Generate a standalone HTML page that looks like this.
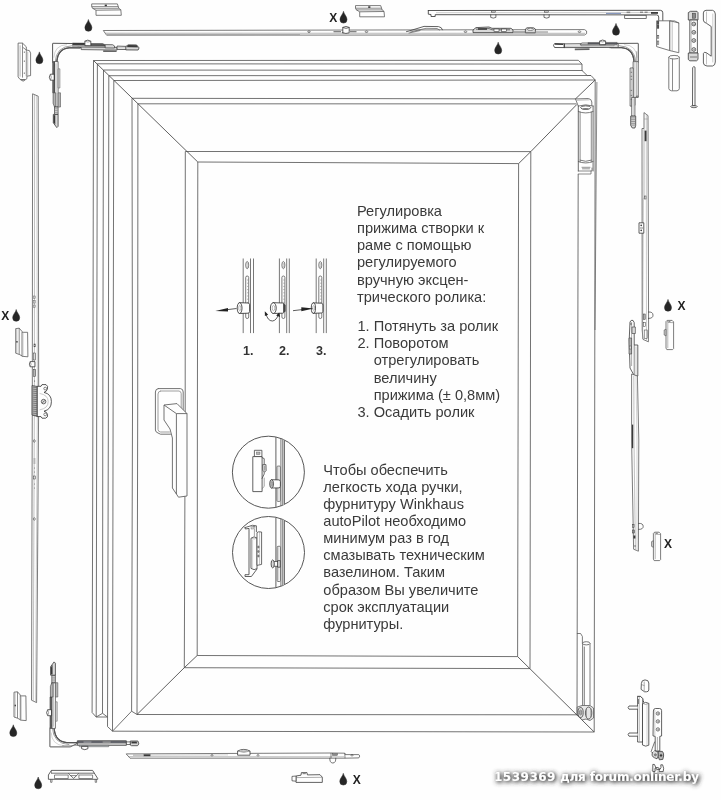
<!DOCTYPE html>
<html lang="ru"><head><meta charset="utf-8"><title>Winkhaus autoPilot</title>
<style>
html,body{margin:0;padding:0;background:#fefefe;}
body{width:721px;height:800px;overflow:hidden;position:relative;font-family:"Liberation Sans",sans-serif;}
svg{position:absolute;left:0;top:0;display:block;filter:blur(0.35px)}
.t{font-family:"Liberation Sans",sans-serif;font-size:14.6px;fill:#3a3a3a}
.n{font-family:"Liberation Sans",sans-serif;font-size:12.5px;font-weight:bold;fill:#333}
.xl{font-family:"Liberation Sans",sans-serif;font-size:12px;font-weight:bold;fill:#222}
.wm{font-family:"DejaVu Sans",sans-serif;font-size:12px;font-weight:bold;fill:#fff}
</style></head>
<body>
<svg width="721" height="800" viewBox="0 0 721 800">
<defs>
<filter id="glow" x="-10%" y="-100%" width="120%" height="300%">
<feGaussianBlur in="SourceAlpha" stdDeviation="2.4" result="b"/>
<feOffset in="b" dx="0.6" dy="1" result="bo"/>
<feComponentTransfer in="bo" result="b2"><feFuncA type="linear" slope="1.55"/></feComponentTransfer>
<feFlood flood-color="#303030" result="f"/>
<feComposite in="f" in2="b2" operator="in" result="sh"/>
<feGaussianBlur in="SourceAlpha" stdDeviation="0.7" result="c"/>
<feComponentTransfer in="c" result="c2"><feFuncA type="linear" slope="0.9"/></feComponentTransfer>
<feFlood flood-color="#404040" result="f2"/>
<feComposite in="f2" in2="c2" operator="in" result="sh2"/>
<feMerge><feMergeNode in="sh"/><feMergeNode in="sh2"/><feMergeNode in="SourceGraphic"/></feMerge>
</filter>
</defs>
<path d="M93.5,60.5 L92.9,410.0 L92.1,712.5" fill="none" stroke="#5a5a5a" stroke-width="0.85" />
<path d="M97.4,63.8 L96.7,410.0 L96.2,717.0" fill="none" stroke="#5a5a5a" stroke-width="0.85" />
<path d="M103.5,70.0 L102.8,410.0 L102.5,713.3" fill="none" stroke="#5a5a5a" stroke-width="0.85" />
<path d="M108.8,75.7 L108.4,410.0 L107.5,726.6" fill="none" stroke="#5a5a5a" stroke-width="0.85" />
<path d="M113.8,80.5 L113.1,410.0 L112.5,731.2" fill="none" stroke="#5a5a5a" stroke-width="0.85" />
<path d="M132.0,98.3 L132.5,410.0 L131.6,711.2" fill="none" stroke="#5a5a5a" stroke-width="0.85" />
<path d="M137.9,103.8 L137.7,410.0 L137.0,714.5" fill="none" stroke="#5a5a5a" stroke-width="0.85" />
<path d="M185.3,151.5 L185.2,410.0 L184.3,667.7" fill="none" stroke="#5a5a5a" stroke-width="0.85" />
<path d="M197.8,162.0 L197.4,410.0 L197.2,655.5" fill="none" stroke="#5a5a5a" stroke-width="0.85" />
<path d="M93.5,60.5 L578.3,60.3" fill="none" stroke="#5a5a5a" stroke-width="0.85" />
<path d="M97.4,63.8 L582.0,64.1" fill="none" stroke="#5a5a5a" stroke-width="0.85" />
<path d="M103.5,70.0 L582.5,70.5" fill="none" stroke="#5a5a5a" stroke-width="0.85" />
<path d="M108.8,75.7 L591.0,75.5" fill="none" stroke="#5a5a5a" stroke-width="0.85" />
<path d="M113.8,80.5 L595.2,80.0" fill="none" stroke="#5a5a5a" stroke-width="0.85" />
<path d="M132.0,98.3 L575.5,98.9" fill="none" stroke="#5a5a5a" stroke-width="0.85" />
<path d="M137.9,103.8 L576.5,103.9" fill="none" stroke="#5a5a5a" stroke-width="0.85" />
<path d="M185.3,151.5 L530.8,151.6" fill="none" stroke="#5a5a5a" stroke-width="0.85" />
<path d="M197.8,162.0 L518.6,163.6" fill="none" stroke="#5a5a5a" stroke-width="0.85" />
<path d="M93.5,60.5 L197.8,162.0" fill="none" stroke="#444" stroke-width="0.85" />
<path d="M578.3,60.3 L582.0,64.1 L582.0,70.5 L587.2,75.5 L591.0,75.5 L595.2,80.0 L594.2,732.0" fill="none" stroke="#5a5a5a" stroke-width="0.85" />
<path d="M596.9,82.0 L595.0,330.0" fill="none" stroke="#5a5a5a" stroke-width="0.7" />
<path d="M595.2,80.0 L575.5,98.9" fill="none" stroke="#444" stroke-width="0.85" />
<path d="M576.8,104.5 L530.8,151.6 L518.6,163.6" fill="none" stroke="#444" stroke-width="0.85" />
<path d="M530.8,151.6 L530.0,668.6" fill="none" stroke="#5a5a5a" stroke-width="0.85" />
<path d="M518.6,163.6 L517.6,656.6" fill="none" stroke="#5a5a5a" stroke-width="0.85" />
<path d="M578.2,174.0 L577.0,714.6" fill="none" stroke="#5a5a5a" stroke-width="0.85" />
<path d="M197.2,655.5 L517.6,656.6" fill="none" stroke="#5a5a5a" stroke-width="0.85" />
<path d="M184.3,667.7 L530.0,668.6" fill="none" stroke="#5a5a5a" stroke-width="0.85" />
<path d="M137.0,714.5 L577.5,714.8" fill="none" stroke="#5a5a5a" stroke-width="0.85" />
<path d="M112.5,731.2 L594.2,732.0" fill="none" stroke="#5a5a5a" stroke-width="0.85" />
<path d="M92.1,712.5 L96.2,717.0 L107.5,717.0" fill="none" stroke="#5a5a5a" stroke-width="0.85" />
<path d="M96.2,717.0 L102.5,713.3 L107.5,717.0" fill="none" stroke="#5a5a5a" stroke-width="0.85" />
<path d="M107.5,726.6 L112.5,731.2 L131.6,711.2 L137.0,714.5" fill="none" stroke="#5a5a5a" stroke-width="0.85" />
<path d="M137.0,714.5 L184.3,667.7 L197.2,655.5" fill="none" stroke="#444" stroke-width="0.85" />
<path d="M517.6,656.6 L594.2,732.0" fill="none" stroke="#444" stroke-width="0.85" />
<path d="M575.5,98.9 L588.5,98.5 Q591.5,99 591.8,102 L591.8,105.5" fill="none" stroke="#5a5a5a" stroke-width="0.8" stroke-linejoin="round" stroke-linecap="round" />
<path d="M575.5,98.9 L577.5,104.2 L578.3,106" fill="none" stroke="#5a5a5a" stroke-width="0.8" stroke-linejoin="round" stroke-linecap="round" />
<path d="M577,100.2 L589,99.8" fill="none" stroke="#888" stroke-width="0.6" stroke-linejoin="round" stroke-linecap="round" />
<path d="M578.3,106 L578.3,171 M593.1,106 L593.1,171" fill="none" stroke="#5a5a5a" stroke-width="0.9" stroke-linejoin="round" stroke-linecap="round" />
<path d="M580.1,112 L580.1,162 M591.3,112 L591.3,162" fill="none" stroke="#5a5a5a" stroke-width="0.7" stroke-linejoin="round" stroke-linecap="round" />
<path d="M578.3,106 Q585.7,103.5 593.1,106 M578.3,111.5 Q585.7,114.5 593.1,111.5" fill="none" stroke="#5a5a5a" stroke-width="0.8" stroke-linejoin="round" stroke-linecap="round" />
<ellipse cx="585.7" cy="107.6" rx="5" ry="1.8" fill="none" stroke="#444" stroke-width="0.9"/>
<ellipse cx="585.7" cy="109" rx="3" ry="1" fill="#777"/>
<path d="M578.3,161.5 Q585.7,164.5 593.1,161.5 M580.1,160.2 Q585.7,162.5 591.3,160.2" fill="none" stroke="#5a5a5a" stroke-width="0.8" stroke-linejoin="round" stroke-linecap="round" />
<path d="M578.3,171 L592,171 L592,168 M578.3,174 L591,174 L591,171" fill="none" stroke="#5a5a5a" stroke-width="0.7" stroke-linejoin="round" stroke-linecap="round" />
<path d="M582,167.3 L590,167.3 M582.5,168.8 L589.5,168.8" fill="none" stroke="#777" stroke-width="0.8" stroke-linejoin="round" stroke-linecap="round" />
<path d="M577.3,633.5 L580.6,633.5 L582.4,636.5 L582.4,643.5" fill="none" stroke="#5a5a5a" stroke-width="0.8" stroke-linejoin="round" stroke-linecap="round" />
<path d="M582.6,643 L582.6,705 M590,643.5 L590,705 M584.3,647 L584.3,705" fill="none" stroke="#5a5a5a" stroke-width="0.8" stroke-linejoin="round" stroke-linecap="round" />
<ellipse cx="586.3" cy="643.3" rx="3.7" ry="1.6" fill="#fefefe" stroke="#555" stroke-width="0.8"/>
<path d="M577.5,707 L582,705.5 L590,705.5 L593.5,708 L593.5,718 L590,720.5 L586,719 L582,720 L577.5,714.6Z" fill="#e8e8e8" stroke="#5a5a5a" stroke-width="0.8" stroke-linejoin="round" stroke-linecap="round" />
<ellipse cx="580.6" cy="712.5" rx="2.6" ry="5" fill="#ddd" stroke="#444" stroke-width="0.8"/>
<ellipse cx="580.6" cy="712.5" rx="1.2" ry="2.6" fill="#aaa" stroke="#555" stroke-width="0.5"/>
<ellipse cx="588.6" cy="713" rx="3.2" ry="6" fill="#e4e4e4" stroke="#444" stroke-width="0.8"/>
<path d="M586.5,709 L586.5,717 M590.8,709 L590.8,717" fill="none" stroke="#777" stroke-width="0.6" stroke-linejoin="round" stroke-linecap="round" />
<path d="M158.2,388.6 L180.5,388.6 Q183.2,389 183.2,392 L183.2,409.5" fill="none" stroke="#5a5a5a" stroke-width="0.85" stroke-linejoin="round" stroke-linecap="round" />
<path d="M158.2,388.6 Q155.4,388.9 155.4,392 L155.4,430 Q155.6,432.2 158,433 L160.5,434.2 L170.5,434.2" fill="none" stroke="#5a5a5a" stroke-width="0.85" stroke-linejoin="round" stroke-linecap="round" />
<path d="M160.6,391 L179,391 Q181,391.3 181.2,393.5 L181.2,408" fill="none" stroke="#777" stroke-width="0.7" stroke-linejoin="round" stroke-linecap="round" />
<path d="M160.6,391 Q158,391.3 158,394 L158,429.5 Q158.2,431.7 160.5,432 L169.5,432" fill="none" stroke="#777" stroke-width="0.7" stroke-linejoin="round" stroke-linecap="round" />
<path d="M164.0,405.0 L177.0,403.6 L187.0,413.6 L187.0,496.0 L178.5,497.2 L176.4,494.0 L172.4,488.0 L172.4,438.0 L170.0,429.0 L164.0,420.0Z" fill="#fefefe" stroke="#5a5a5a" stroke-width="0.85" stroke-linejoin="round" />
<path d="M164.0,405.0 L176.4,413.6 L187.0,413.6" fill="none" stroke="#5a5a5a" stroke-width="0.85" />
<path d="M176.4,413.6 L176.4,494.0" fill="none" stroke="#5a5a5a" stroke-width="0.85" />
<text x="357" y="215.7" class="t">Регулировка</text>
<text x="357" y="233" class="t">прижима створки к</text>
<text x="357" y="250.3" class="t">раме с помощью</text>
<text x="357" y="267.4" class="t">регулируемого</text>
<text x="357" y="284.5" class="t">вручную эксцен-</text>
<text x="357" y="301.6" class="t">трического ролика:</text>
<text x="357.5" y="330.7" class="t">1. Потянуть за ролик</text>
<text x="357.5" y="348.2" class="t">2. Поворотом</text>
<text x="373.7" y="365.4" class="t">отрегулировать</text>
<text x="373.7" y="382.5" class="t">величину</text>
<text x="373.7" y="399.8" class="t">прижима (± 0,8мм)</text>
<text x="357.5" y="416.9" class="t">3. Осадить ролик</text>
<text x="323.3" y="475" class="t">Чтобы обеспечить</text>
<text x="323.3" y="491.8" class="t">легкость хода ручки,</text>
<text x="323.3" y="508.6" class="t">фурнитуру Winkhaus</text>
<text x="323.3" y="525.7" class="t">autoPilot необходимо</text>
<text x="323.3" y="542.9" class="t">минимум раз в год</text>
<text x="323.3" y="560.1" class="t">смазывать техническим</text>
<text x="323.3" y="577.4" class="t">вазелином. Таким</text>
<text x="323.3" y="594.6" class="t">образом Вы увеличите</text>
<text x="323.3" y="611.7" class="t">срок эксплуатации</text>
<text x="323.3" y="628.9" class="t">фурнитуры.</text>
<text x="243" y="354.6" class="n">1.</text>
<text x="279" y="354.6" class="n">2.</text>
<text x="316" y="354.6" class="n">3.</text>
<text x="494" y="780.8" class="wm" filter="url(#glow)"><tspan letter-spacing="0.5">1539369</tspan><tspan letter-spacing="-0.17"> для forum.onliner.by</tspan></text>
<circle cx="268.4" cy="472.2" r="36" fill="none" stroke="#444" stroke-width="0.9"/>
<circle cx="268.5" cy="552.5" r="36" fill="none" stroke="#444" stroke-width="0.9"/>
<path d="M88.4,19.5 C88.7,22.1 91.9,24.5 91.9,27.8 A3.5,3.5 0 1 1 84.9,27.8 C84.9,24.5 88.1,22.1 88.4,19.5Z" fill="#262626" stroke="#262626" stroke-width="0.5" stroke-linejoin="round"/>
<path d="M39.4,51.9 C39.7,54.5 42.9,56.9 42.9,60.2 A3.5,3.5 0 1 1 35.9,60.2 C35.9,56.9 39.1,54.5 39.4,51.9Z" fill="#262626" stroke="#262626" stroke-width="0.5" stroke-linejoin="round"/>
<path d="M16.2,309.5 C16.5,312.1 19.7,314.5 19.7,317.8 A3.5,3.5 0 1 1 12.7,317.8 C12.7,314.5 15.9,312.1 16.2,309.5Z" fill="#262626" stroke="#262626" stroke-width="0.5" stroke-linejoin="round"/>
<path d="M13.3,724.8 C13.6,727.4 16.8,729.8 16.8,733.1 A3.5,3.5 0 1 1 9.8,733.1 C9.8,729.8 13.0,727.4 13.3,724.8Z" fill="#262626" stroke="#262626" stroke-width="0.5" stroke-linejoin="round"/>
<path d="M38.2,777.0 C38.5,779.6 41.7,782.0 41.7,785.3 A3.5,3.5 0 1 1 34.7,785.3 C34.7,782.0 37.9,779.6 38.2,777.0Z" fill="#262626" stroke="#262626" stroke-width="0.5" stroke-linejoin="round"/>
<path d="M343.5,11.3 C343.8,13.9 347.0,16.3 347.0,19.6 A3.5,3.5 0 1 1 340.0,19.6 C340.0,16.3 343.2,13.9 343.5,11.3Z" fill="#262626" stroke="#262626" stroke-width="0.5" stroke-linejoin="round"/>
<path d="M343.3,773.3 C343.6,775.9 346.8,778.3 346.8,781.6 A3.5,3.5 0 1 1 339.8,781.6 C339.8,778.3 343.0,775.9 343.3,773.3Z" fill="#262626" stroke="#262626" stroke-width="0.5" stroke-linejoin="round"/>
<path d="M498.2,42.2 C498.5,44.8 501.7,47.2 501.7,50.5 A3.5,3.5 0 1 1 494.7,50.5 C494.7,47.2 497.9,44.8 498.2,42.2Z" fill="#262626" stroke="#262626" stroke-width="0.5" stroke-linejoin="round"/>
<path d="M616.0,23.4 C616.3,26.0 619.5,28.4 619.5,31.7 A3.5,3.5 0 1 1 612.5,31.7 C612.5,28.4 615.7,26.0 616.0,23.4Z" fill="#262626" stroke="#262626" stroke-width="0.5" stroke-linejoin="round"/>
<path d="M668.0,299.4 C668.3,302.0 671.5,304.4 671.5,307.7 A3.5,3.5 0 1 1 664.5,307.7 C664.5,304.4 667.7,302.0 668.0,299.4Z" fill="#262626" stroke="#262626" stroke-width="0.5" stroke-linejoin="round"/>
<text x="1.3" y="320.3" class="xl">X</text>
<text x="329.3" y="21.6" class="xl">X</text>
<text x="352.8" y="783.6" class="xl">X</text>
<text x="677.5" y="309.7" class="xl">X</text>
<text x="664" y="548.4" class="xl">X</text>
<path d="M91.7,3.9 L117.4,3.9 L118.8,8.3 L120.8,9.7 L121.3,15.3 L96.0,15.3 L96.0,10.2 L92.6,8.3 L91.7,6.6Z" fill="#fefefe" stroke="#5a5a5a" stroke-width="0.8" stroke-linejoin="round" />
<path d="M91.7,6.6 L118.2,6.6" fill="none" stroke="#5a5a5a" stroke-width="0.7" />
<path d="M92.6,8.3 L118.8,8.3" fill="none" stroke="#5a5a5a" stroke-width="0.7" />
<path d="M96.0,10.2 L120.8,9.9" fill="none" stroke="#5a5a5a" stroke-width="0.8" />
<rect x="104.7" y="4.6" width="2.2" height="1.6" fill="#3a3a3a"/>
<path d="M355.5,5.6 L380.7,5.6 L382.1,9.9 L384.0,11.3 L384.5,16.8 L359.7,16.8 L359.7,11.8 L356.4,9.9 L355.5,8.2Z" fill="#fefefe" stroke="#5a5a5a" stroke-width="0.8" stroke-linejoin="round" />
<path d="M355.5,8.2 L381.5,8.2" fill="none" stroke="#5a5a5a" stroke-width="0.7" />
<path d="M356.4,9.9 L382.1,9.9" fill="none" stroke="#5a5a5a" stroke-width="0.7" />
<path d="M359.7,11.8 L384.0,11.5" fill="none" stroke="#5a5a5a" stroke-width="0.8" />
<rect x="368.2" y="6.3" width="2.2" height="1.6" fill="#3a3a3a"/>
<path d="M18.1,43.1 L22.5,43.1 L26.3,46.8 L26.3,50.0 L29.4,50.6 L30.6,53.1 L30.6,75.6 L26.9,76.2 L26.9,78.7 L23.1,81.2 L19.4,78.7 L18.1,76.8Z" fill="#fefefe" stroke="#5a5a5a" stroke-width="0.8" stroke-linejoin="round" />
<path d="M20.1,45.3 L20.1,76.6" fill="none" stroke="#888" stroke-width="0.6" />
<path d="M22.5,43.1 L22.5,47.1 L26.3,50.0" fill="none" stroke="#5a5a5a" stroke-width="0.7" />
<path d="M22.5,47.1 L22.5,77.6" fill="none" stroke="#5a5a5a" stroke-width="0.7" />
<path d="M26.3,50.0 L26.3,76.2" fill="none" stroke="#5a5a5a" stroke-width="0.7" />
<path d="M27.7,51.6 L27.7,75.9" fill="none" stroke="#999" stroke-width="0.6" />
<circle cx="24.3" cy="52.1" r="0.55" fill="#3a3a3a"/>
<circle cx="24.3" cy="61.1" r="0.55" fill="#3a3a3a"/>
<circle cx="24.3" cy="73.1" r="0.55" fill="#3a3a3a"/>
<path d="M20.6,79.7 L25.1,79.7" fill="none" stroke="#666" stroke-width="1.2" />
<path d="M15.7,328.6 L19.2,328.2 L22.0,331.4 L22.0,332.3 L27.6,332.3 L27.9,356.8 L22.0,356.3 L22.0,355.9 L19.2,354.4 L15.7,353.2Z" fill="#fefefe" stroke="#5a5a5a" stroke-width="0.8" stroke-linejoin="round" />
<path d="M16.8,328.7 L16.8,353.6" fill="none" stroke="#999" stroke-width="0.6" />
<path d="M19.2,328.2 L19.2,354.4" fill="none" stroke="#5a5a5a" stroke-width="0.7" />
<path d="M22.0,332.3 L22.0,355.9" fill="none" stroke="#5a5a5a" stroke-width="0.8" />
<path d="M23.1,332.5 L23.1,356.2" fill="none" stroke="#aaa" stroke-width="0.5" />
<rect x="16.3" y="341.0" width="1.3" height="1.6" fill="#3a3a3a"/>
<path d="M14.0,692.2 L17.5,691.8 L20.3,695.0 L20.3,695.9 L25.9,695.9 L26.2,720.6 L20.3,720.1 L20.3,719.7 L17.5,718.2 L14.0,717.0Z" fill="#fefefe" stroke="#5a5a5a" stroke-width="0.8" stroke-linejoin="round" />
<path d="M15.1,692.3 L15.1,717.4" fill="none" stroke="#999" stroke-width="0.6" />
<path d="M17.5,691.8 L17.5,718.2" fill="none" stroke="#5a5a5a" stroke-width="0.7" />
<path d="M20.3,695.9 L20.3,719.7" fill="none" stroke="#5a5a5a" stroke-width="0.8" />
<path d="M21.4,696.1 L21.4,720.0" fill="none" stroke="#aaa" stroke-width="0.5" />
<rect x="14.6" y="704.7" width="1.3" height="1.6" fill="#3a3a3a"/>
<path d="M666.0,321.6 L667.2,320.4 L672.1,320.4 L673.6,321.9 L673.6,348.6 L672.6,349.6 L666.8,349.6 L666.0,348.1Z" fill="#fefefe" stroke="#5a5a5a" stroke-width="0.8" stroke-linejoin="round" />
<path d="M667.8,322.4 L667.8,348.1" fill="none" stroke="#888" stroke-width="0.6" />
<path d="M667.2,320.4 L667.8,322.4 L673.6,322.7" fill="none" stroke="#777" stroke-width="0.6" />
<path d="M666.0,329.2 L664.2,330.0 L664.2,335.0 L666.0,335.9Z" fill="#d9d9d9" stroke="#5a5a5a" stroke-width="0.7" stroke-linejoin="round" />
<rect x="668.4" y="320.8" width="2" height="1.4" fill="#8a8a8a"/>
<path d="M653.4,533.4 L654.6,532.2 L659.1,532.2 L660.6,533.7 L660.6,559.6 L659.6,560.6 L654.2,560.6 L653.4,559.1Z" fill="#fefefe" stroke="#5a5a5a" stroke-width="0.8" stroke-linejoin="round" />
<path d="M655.2,534.2 L655.2,559.1" fill="none" stroke="#888" stroke-width="0.6" />
<path d="M654.6,532.2 L655.2,534.2 L660.6,534.5" fill="none" stroke="#777" stroke-width="0.6" />
<path d="M653.4,540.7 L651.6,541.6 L651.6,546.4 L653.4,547.3Z" fill="#d9d9d9" stroke="#5a5a5a" stroke-width="0.7" stroke-linejoin="round" />
<rect x="655.8" y="532.6" width="2" height="1.4" fill="#8a8a8a"/>
<path d="M103.3,30.5 L584.5,29.6 L586.6,31.0 L586.6,33.6 L584.5,35.0 L106.6,35.2Z" fill="#fefefe" stroke="#5a5a5a" stroke-width="0.8" stroke-linejoin="round" />
<path d="M105.0,33.2 L585.0,33.3" fill="none" stroke="#9a9a9a" stroke-width="0.7" />
<path d="M106.0,34.4 L300.0,34.6" fill="none" stroke="#a8a8a8" stroke-width="1.1" />
<ellipse cx="309" cy="31.7" rx="1.3" ry="0.8" fill="none" stroke="#3a3a3a" stroke-width="0.6"/>
<ellipse cx="366.5" cy="31.7" rx="1.3" ry="0.8" fill="none" stroke="#3a3a3a" stroke-width="0.6"/>
<ellipse cx="465.5" cy="31.7" rx="1.3" ry="0.8" fill="none" stroke="#3a3a3a" stroke-width="0.6"/>
<ellipse cx="579.5" cy="31.7" rx="1.3" ry="0.8" fill="none" stroke="#3a3a3a" stroke-width="0.6"/>
<path d="M333.5,31.7 L341.0,31.7" fill="none" stroke="#777" stroke-width="1.2" />
<path d="M350.0,31.7 L356.5,31.7" fill="none" stroke="#777" stroke-width="1.2" />
<path d="M342.8,32.8 L342.8,27.4 Q346,25.6 349.2,27.4 L349.2,32.8 Q346,34.2 342.8,32.8Z" fill="#fefefe" stroke="#3a3a3a" stroke-width="0.8" stroke-linejoin="round" stroke-linecap="round" />
<path d="M342.8,27.6 Q346,29.4 349.2,27.6" fill="none" stroke="#3a3a3a" stroke-width="0.7" stroke-linejoin="round" stroke-linecap="round" />
<path d="M406.5,31.6 L409,31 L424,26.4 L438.5,26.6 Q442,27.2 442.5,29.8" fill="none" stroke="#3a3a3a" stroke-width="0.8" stroke-linejoin="round" stroke-linecap="round" />
<path d="M410.5,32 L426,28.3 L437,28.5 L439.5,30" fill="none" stroke="#5a5a5a" stroke-width="0.7" stroke-linejoin="round" stroke-linecap="round" />
<path d="M409,33 L420,30.6" fill="none" stroke="#5a5a5a" stroke-width="0.7" stroke-linejoin="round" stroke-linecap="round" />
<path d="M473.0,30.0 L476.0,27.6 L489.0,27.0 L492.0,28.3 L511.0,28.3 L513.0,30.0 L513.0,32.6 L473.0,32.6Z" fill="#d9d9d9" stroke="#3a3a3a" stroke-width="0.8" stroke-linejoin="round" />
<path d="M476.0,29.2 L489.0,28.6 L492.0,29.8 L510.0,29.8" fill="none" stroke="#3a3a3a" stroke-width="0.7" />
<rect x="478" y="28.2" width="9" height="1.6" fill="#3a3a3a"/>
<rect x="494" y="29" width="5" height="2.4" fill="#fefefe" stroke="#3a3a3a" stroke-width="0.6"/>
<rect x="501.5" y="29" width="5" height="2.4" fill="#fefefe" stroke="#3a3a3a" stroke-width="0.6"/>
<path d="M513.0,32.0 L525.0,32.0" fill="none" stroke="#888" stroke-width="1.4" />
<path d="M525.4,32.8 L525.4,29.0 L527.0,27.8 L533.5,27.8 L535.4,29.0 L535.4,32.8Z" fill="#d9d9d9" stroke="#3a3a3a" stroke-width="0.8" stroke-linejoin="round" />
<ellipse cx="530.4" cy="29.3" rx="3" ry="1.1" fill="#fefefe" stroke="#3a3a3a" stroke-width="0.6"/>
<path d="M535.4,32.0 L548.0,32.0" fill="none" stroke="#999" stroke-width="1.2" />
<path d="M428.3,10.5 L660.4,10.3 Q662.8,10.4 662.8,12.8 L662.8,20.8" fill="none" stroke="#3a3a3a" stroke-width="0.85" stroke-linejoin="round" stroke-linecap="round" />
<path d="M428.3,10.5 L428.3,14.2 L431,14.5 L431,16.5 L435.2,16.5 L435.2,14.7 L656.6,14.9 Q658.7,15 658.7,17 L658.7,20.8" fill="none" stroke="#3a3a3a" stroke-width="0.85" stroke-linejoin="round" stroke-linecap="round" />
<path d="M436.0,12.7 L656.0,12.6" fill="none" stroke="#aaa" stroke-width="0.6" />
<path d="M490.7,14.8 L490.7,17.4 Q493.3,18.8 495.90000000000003,17.4 L495.90000000000003,14.8" fill="none" stroke="#3a3a3a" stroke-width="0.7" stroke-linejoin="round" stroke-linecap="round" />
<rect x="491.3" y="11" width="4" height="1.2" fill="none" stroke="#3a3a3a" stroke-width="0.5"/>
<path d="M544.0,14.8 L544.0,17.4 Q546.6,18.8 549.2,17.4 L549.2,14.8" fill="none" stroke="#3a3a3a" stroke-width="0.7" stroke-linejoin="round" stroke-linecap="round" />
<rect x="544.6" y="11" width="4" height="1.2" fill="none" stroke="#3a3a3a" stroke-width="0.5"/>
<path d="M606.0,13.4 L621.0,13.4" fill="none" stroke="#6a7fae" stroke-width="0.9" />
<rect x="624.7" y="15.3" width="21.5" height="3.3" fill="#fefefe" stroke="#3a3a3a" stroke-width="0.7"/>
<rect x="626.6" y="11.6" width="3.6" height="1.5" fill="#8a8a8a"/>
<rect x="640" y="11.6" width="3" height="1.4" fill="#8a8a8a"/><rect x="644.6" y="11.6" width="3" height="1.4" fill="#8a8a8a"/>
<rect x="651" y="12" width="7" height="1.8" fill="#3a3a3a"/>
<path d="M656.6,20.8 L669.8,20.8 L669.8,50.6 L656.6,46.6Z" fill="#fefefe" stroke="#5a5a5a" stroke-width="0.8" stroke-linejoin="round" />
<path d="M669.8,20.8 L678.8,22.9 L678.8,52.7 L669.8,50.6Z" fill="#fefefe" stroke="#5a5a5a" stroke-width="0.8" stroke-linejoin="round" />
<path d="M669.8,20.8 Q675,19.8 678.8,22.9" fill="none" stroke="#5a5a5a" stroke-width="0.7" stroke-linejoin="round" stroke-linecap="round" />
<path d="M672.2,21.6 L672.2,51.2" fill="none" stroke="#999" stroke-width="0.6" />
<rect x="657.3" y="21.5" width="1.5" height="3" fill="#3a3a3a" stroke="#3a3a3a" stroke-width="0.5"/>
<rect x="657.3" y="25.3" width="1.5" height="3" fill="#3a3a3a" stroke="#3a3a3a" stroke-width="0.5"/>
<rect x="657.3" y="35.4" width="1.5" height="2.8" fill="none" stroke="#3a3a3a" stroke-width="0.5"/>
<rect x="657.3" y="41" width="1.5" height="3.4" fill="none" stroke="#3a3a3a" stroke-width="0.5"/>
<path d="M668.8,57.2 L668.8,88.6 Q669,90.4 671.5,90.8 L677,90.8 Q679.2,90.4 679.3,88.6 L679.3,57.2" fill="#fefefe" stroke="#5a5a5a" stroke-width="0.8" stroke-linejoin="round" stroke-linecap="round" />
<ellipse cx="674.05" cy="57.2" rx="5.25" ry="1.8" fill="#fefefe" stroke="#5a5a5a" stroke-width="0.8"/>
<path d="M672.5,58.8 L672.5,90.6" fill="none" stroke="#5a5a5a" stroke-width="0.7" />
<path d="M688.3,12.6 L690.5,11.3 L697.0,11.3 L698.0,12.6 L698.0,20.0 L688.3,20.0Z" fill="#d9d9d9" stroke="#3a3a3a" stroke-width="0.8" stroke-linejoin="round" />
<path d="M689.8,20.0 L697.4,20.0 L697.4,53.0 L689.8,53.0Z" fill="#fefefe" stroke="#3a3a3a" stroke-width="0.8" stroke-linejoin="round" />
<path d="M691.2,20.0 L691.2,53.0" fill="none" stroke="#999" stroke-width="0.6" />
<circle cx="693.8" cy="24" r="1.9" fill="#d9d9d9" stroke="#3a3a3a" stroke-width="0.7"/>
<circle cx="694.1" cy="24.2" r="0.8" fill="#8a8a8a"/>
<circle cx="693.8" cy="32.3" r="1.9" fill="#d9d9d9" stroke="#3a3a3a" stroke-width="0.7"/>
<circle cx="694.1" cy="32.5" r="0.8" fill="#8a8a8a"/>
<circle cx="693.8" cy="40.5" r="1.9" fill="#d9d9d9" stroke="#3a3a3a" stroke-width="0.7"/>
<circle cx="694.1" cy="40.7" r="0.8" fill="#8a8a8a"/>
<circle cx="693.8" cy="49.5" r="1.9" fill="#d9d9d9" stroke="#3a3a3a" stroke-width="0.7"/>
<circle cx="694.1" cy="49.7" r="0.8" fill="#8a8a8a"/>
<path d="M688.3,53.0 L698.0,53.0 L698.0,59.5 L696.5,60.8 L689.8,60.8 L688.3,59.5Z" fill="#d9d9d9" stroke="#3a3a3a" stroke-width="0.8" stroke-linejoin="round" />
<path d="M690.0,57.0 L697.0,57.0" fill="none" stroke="#777" stroke-width="1.0" />
<rect x="692.3" y="13.2" width="3.4" height="5" fill="#8a8a8a" stroke="#3a3a3a" stroke-width="0.5"/>
<path d="M703.4,12.5 Q703.6,10.4 706,10.3 L712.5,10.3 Q715.2,10.8 715.3,14 L715.3,62 Q715.2,65.5 712.5,66 L707,66 Q703.6,65.6 703.4,63 L703.4,53.5 Q703.8,51.5 706.5,52.8 L711.2,56.2 L711.2,26.5 L706.5,23.3 Q703.6,22.5 703.4,20.5Z" fill="#fefefe" stroke="#3a3a3a" stroke-width="0.8" stroke-linejoin="round" stroke-linecap="round" />
<path d="M706.5,23.3 L706.5,12 M706.5,52.8 L706.5,64" fill="none" stroke="#999" stroke-width="0.6" stroke-linejoin="round" stroke-linecap="round" />
<path d="M712.8,14 L712.8,62" fill="none" stroke="#aaa" stroke-width="0.6" stroke-linejoin="round" stroke-linecap="round" />
<path d="M692.9,67.2 Q693.9,65.8 695,67.2 L695,105.6 L692.9,105.6Z" fill="#fefefe" stroke="#3a3a3a" stroke-width="0.8" stroke-linejoin="round" stroke-linecap="round" />
<ellipse cx="693.95" cy="106.6" rx="3.3" ry="1.1" fill="#d9d9d9" stroke="#3a3a3a" stroke-width="0.7"/>
<path d="M53.2,43.3 L72.6,43.5 L81.2,47.8 L69.6,47.7 Q58.0,48.5 56.9,60.9 L56.9,70.0 L52.6,61.6 L52.6,43.9Z" fill="#fefefe" stroke="#3a3a3a" stroke-width="0.85" stroke-linejoin="round" stroke-linecap="round" />
<path d="M79.6,47.9 L69.6,47.8 Q58.0,48.5 56.9,60.9" fill="none" stroke="#555" stroke-width="1.3" stroke-linejoin="round" stroke-linecap="round" />
<path d="M71.6,45.8 Q55.9,46.4 55.1,62.3" fill="none" stroke="#777" stroke-width="0.7" stroke-linejoin="round" stroke-linecap="round" />
<path d="M66.6,44.7 Q54.4,45.1 53.9,57.3" fill="none" stroke="#aaa" stroke-width="0.5" stroke-linejoin="round" stroke-linecap="round" />
<path d="M81.2,46.9 L117.1,47.4 L117.1,50.1 L81.2,49.6Z" fill="#d9d9d9" stroke="#3a3a3a" stroke-width="0.7" stroke-linejoin="round" />
<path d="M72.6,42.9 L84.9,43.1 L84.9,45.3 L72.6,45.1Z" fill="#3a3a3a" stroke="#3a3a3a" stroke-width="0.4" stroke-linejoin="round" />
<path d="M72.6,45.1 L105.2,45.5 L105.2,47.2 L72.6,46.8Z" fill="#b5b5b5" stroke="#666" stroke-width="0.5" stroke-linejoin="round" />
<path d="M90.8,43.5 L102.6,43.6 L105.2,44.7 L105.2,45.9 L90.8,45.8Z" fill="#5c5c5c" stroke="#3a3a3a" stroke-width="0.5" stroke-linejoin="round" />
<path d="M105.2,44.6 L112.6,44.7 L114.6,46.0 L114.6,48.0 L105.2,47.9Z" fill="#d9d9d9" stroke="#3a3a3a" stroke-width="0.7" stroke-linejoin="round" />
<path d="M103.2,51.1 L116.6,51.3" fill="none" stroke="#666" stroke-width="1.6" />
<path d="M84.9,45.3 L84.9,41.1 Q87.8,39.1 90.8,41.2 L90.8,45.4Z" fill="#fefefe" stroke="#3a3a3a" stroke-width="0.8" stroke-linejoin="round" stroke-linecap="round" />
<path d="M84.9,41.3 Q87.8,42.9 90.8,41.4" fill="none" stroke="#666" stroke-width="0.6" stroke-linejoin="round" stroke-linecap="round" />
<path d="M117.1,46.1 L126.6,46.4 L126.6,49.5 L117.1,49.4Z" fill="#fefefe" stroke="#3a3a3a" stroke-width="0.8" stroke-linejoin="round" />
<path d="M117.1,47.7 L126.6,47.9" fill="none" stroke="#999" stroke-width="0.6" />
<path d="M125.8,46.6 L128.1,44.9 L136.6,45.0 L139.1,47.9 L138.1,50.0 L125.8,49.9Z" fill="#d9d9d9" stroke="#3a3a3a" stroke-width="0.8" stroke-linejoin="round" />
<path d="M128.4,45.1 L136.6,45.2 L137.9,47.2 L126.9,47.1Z" fill="#3a3a3a" stroke="#3a3a3a" stroke-width="0.3" stroke-linejoin="round" />
<path d="M54.5,61.6 L58.1,61.6 L58.1,107.0 L54.5,107.0Z" fill="#fefefe" stroke="#3a3a3a" stroke-width="0.7" stroke-linejoin="round" />
<path d="M52.7,61.6 L54.5,61.6 L54.5,92.8 L52.7,92.8Z" fill="#6a6a6a" stroke="#3a3a3a" stroke-width="0.6" stroke-linejoin="round" />
<path d="M53.1,92.8 L55.8,92.8 L55.8,107.0 L54.5,107.0 L53.1,103.3Z" fill="#b5b5b5" stroke="#3a3a3a" stroke-width="0.6" stroke-linejoin="round" />
<path d="M56.0,63.3 L56.0,106.3" fill="none" stroke="#888" stroke-width="0.6" />
<path d="M58.1,68.8 L59.9,68.8 L59.9,88.0 L58.1,88.0Z" fill="#d9d9d9" stroke="#666" stroke-width="0.6" stroke-linejoin="round" />
<path d="M58.1,92.8 L60.5,92.8 L60.5,107.0 L58.1,107.0Z" fill="#b5b5b5" stroke="#555" stroke-width="0.6" stroke-linejoin="round" />
<path d="M53.9,74.2 L50.4,74.2 Q48.2,77.2 50.4,80.2 L53.9,80.2Z" fill="#fefefe" stroke="#3a3a3a" stroke-width="0.8" stroke-linejoin="round" stroke-linecap="round" />
<path d="M50.6,74.4 Q52.2,77.2 50.6,80.0" fill="none" stroke="#666" stroke-width="0.6" stroke-linejoin="round" stroke-linecap="round" />
<path d="M54.5,107.0 L58.1,107.0 L58.1,114.4 L54.5,114.4Z" fill="#d9d9d9" stroke="#3a3a3a" stroke-width="0.7" stroke-linejoin="round" />
<path d="M54.8,108.8 L57.8,108.8" fill="none" stroke="#777" stroke-width="0.6" />
<path d="M54.8,110.6 L57.8,110.6" fill="none" stroke="#777" stroke-width="0.6" />
<path d="M54.8,112.4 L57.8,112.4" fill="none" stroke="#777" stroke-width="0.6" />
<path d="M53.3,114.4 L58.1,114.4 L58.1,126.3 L56.8,127.6 L53.3,122.8Z" fill="#d9d9d9" stroke="#3a3a3a" stroke-width="0.8" stroke-linejoin="round" />
<path d="M53.7,115.3 L55.1,115.3 L55.1,124.3 L53.7,122.3Z" fill="#3a3a3a" stroke="#3a3a3a" stroke-width="0.3" stroke-linejoin="round" />
<path d="M637.7,43.3 L618.2,43.4 L609.6,47.6 L621.3,47.6 Q632.9,48.5 634.0,60.9 L634.0,70.0 L638.3,61.6 L638.3,43.9Z" fill="#fefefe" stroke="#3a3a3a" stroke-width="0.85" stroke-linejoin="round" stroke-linecap="round" />
<path d="M611.2,47.7 L621.3,47.7 Q632.9,48.5 634.0,60.9" fill="none" stroke="#555" stroke-width="1.3" stroke-linejoin="round" stroke-linecap="round" />
<path d="M619.3,45.7 Q635.0,46.4 635.8,62.3" fill="none" stroke="#777" stroke-width="0.7" stroke-linejoin="round" stroke-linecap="round" />
<path d="M624.3,44.6 Q636.5,45.1 637.0,57.3" fill="none" stroke="#aaa" stroke-width="0.5" stroke-linejoin="round" stroke-linecap="round" />
<path d="M618.2,43.4 L564.0,43.9 L564.0,47.6 L618.2,47.4Z" fill="#fefefe" stroke="#3a3a3a" stroke-width="0.8" stroke-linejoin="round" />
<path d="M618.2,45.8 L564.0,46.2" fill="none" stroke="#888" stroke-width="0.6" />
<path d="M617.2,42.4 L588.1,42.5 L588.1,44.6 L617.2,44.5Z" fill="#55565c" stroke="#3a3a3a" stroke-width="0.4" stroke-linejoin="round" />
<path d="M588.1,42.9 L582.1,42.9 L580.4,43.9 L580.4,45.0 L588.1,45.0Z" fill="#d9d9d9" stroke="#3a3a3a" stroke-width="0.6" stroke-linejoin="round" />
<path d="M614.2,44.5 L581.1,44.6 L581.1,45.9 L614.2,45.8Z" fill="#b5b5b5" stroke="#666" stroke-width="0.4" stroke-linejoin="round" />
<path d="M589.5,49.2 L574.8,49.3" fill="none" stroke="#666" stroke-width="1.7" />
<path d="M605.6,44.3 L605.6,41.0 Q602.6,39.0 599.6,41.1 L599.6,44.4Z" fill="#fefefe" stroke="#3a3a3a" stroke-width="0.8" stroke-linejoin="round" stroke-linecap="round" />
<path d="M605.6,41.2 Q602.6,42.8 599.6,41.3" fill="none" stroke="#666" stroke-width="0.6" stroke-linejoin="round" stroke-linecap="round" />
<path d="M564.0,43.8 L554.6,43.5 Q552.4,45.4 554.6,47.5 L564.0,47.6Z" fill="#fefefe" stroke="#3a3a3a" stroke-width="0.85" stroke-linejoin="round" stroke-linecap="round" />
<path d="M563.0,44.3 L555.0,44.1" fill="none" stroke="#3a3a3a" stroke-width="1.2" />
<path d="M564.0,43.8 L564.0,47.6" fill="none" stroke="#3a3a3a" stroke-width="0.6" />
<path d="M638.3,61.6 L633.1,61.6 L633.1,105.4 L634.9,105.4 L634.9,97.4 L638.3,97.4Z" fill="#fefefe" stroke="#3a3a3a" stroke-width="0.7" stroke-linejoin="round" />
<path d="M636.7,51.3 L636.7,97.4" fill="none" stroke="#777" stroke-width="0.6" />
<path d="M634.9,57.3 L634.9,97.4" fill="none" stroke="#999" stroke-width="0.6" />
<path d="M633.1,67.9 L630.1,68.0 L630.1,106.1 L633.1,106.1Z" fill="#fefefe" stroke="#3a3a3a" stroke-width="0.7" stroke-linejoin="round" />
<path d="M631.5,68.3 L631.5,105.9" fill="none" stroke="#999" stroke-width="0.5" />
<path d="M632.1,72.3 L630.7,72.3" fill="none" stroke="#555" stroke-width="0.7" />
<path d="M632.1,76.3 L630.7,76.3" fill="none" stroke="#555" stroke-width="0.7" />
<path d="M632.1,79.3 L630.7,79.3" fill="none" stroke="#555" stroke-width="0.7" />
<path d="M632.1,90.4 L630.7,90.4" fill="none" stroke="#555" stroke-width="0.7" />
<path d="M632.1,95.4 L630.7,95.4" fill="none" stroke="#555" stroke-width="0.7" />
<path d="M632.1,99.4 L630.7,99.4" fill="none" stroke="#555" stroke-width="0.7" />
<circle cx="637.1" cy="96.4" r="0.7" fill="none" stroke="#3a3a3a" stroke-width="0.5"/>
<path d="M634.9,97.4 L631.7,97.4 L631.7,116.1 L634.9,116.1Z" fill="#fefefe" stroke="#3a3a3a" stroke-width="0.7" stroke-linejoin="round" />
<path d="M633.3,98.4 L633.3,115.4" fill="none" stroke="#999" stroke-width="0.5" />
<path d="M635.7,116.1 L630.7,116.1 L630.7,125.4 L632.3,128.0 L634.9,128.0 L635.7,125.4Z" fill="#d9d9d9" stroke="#3a3a3a" stroke-width="0.8" stroke-linejoin="round" />
<path d="M635.3,117.9 L631.1,117.9" fill="none" stroke="#666" stroke-width="0.6" />
<path d="M635.3,119.7 L631.1,119.7" fill="none" stroke="#666" stroke-width="0.6" />
<path d="M635.3,121.5 L631.1,121.5" fill="none" stroke="#666" stroke-width="0.6" />
<path d="M635.3,123.3 L631.1,123.3" fill="none" stroke="#666" stroke-width="0.6" />
<path d="M635.3,125.1 L631.1,125.1" fill="none" stroke="#666" stroke-width="0.6" />
<path d="M50.5,746.9 L70.2,746.9 L78.9,742.7 L66.9,742.7 Q55.3,741.7 54.2,729.3 L54.2,720.0 L49.9,728.4 L49.9,746.3Z" fill="#fefefe" stroke="#3a3a3a" stroke-width="0.85" stroke-linejoin="round" stroke-linecap="round" />
<path d="M77.3,742.6 L66.9,742.6 Q55.3,741.7 54.2,729.3" fill="none" stroke="#555" stroke-width="1.3" stroke-linejoin="round" stroke-linecap="round" />
<path d="M68.9,744.6 Q53.2,743.8 52.4,727.9" fill="none" stroke="#777" stroke-width="0.7" stroke-linejoin="round" stroke-linecap="round" />
<path d="M63.9,745.7 Q51.7,745.1 51.2,732.9" fill="none" stroke="#aaa" stroke-width="0.5" stroke-linejoin="round" stroke-linecap="round" />
<path d="M77.3,745.3 L126.4,745.3 L126.4,740.8 L77.3,740.8Z" fill="#d9d9d9" stroke="#3a3a3a" stroke-width="0.8" stroke-linejoin="round" />
<path d="M77.8,743.1 L125.9,743.1 L125.9,741.1 L77.8,741.1Z" fill="#6d6f78" stroke="#3a3a3a" stroke-width="0.4" stroke-linejoin="round" />
<path d="M83.4,742.6 L91.5,742.6 L91.5,741.6 L83.4,741.6Z" fill="#c9ccd6" stroke="#555" stroke-width="0.3" stroke-linejoin="round" />
<path d="M102.6,742.6 L110.7,742.6 L110.7,741.6 L102.6,741.6Z" fill="#d5d5d5" stroke="#555" stroke-width="0.3" stroke-linejoin="round" />
<path d="M79.3,746.7 L108.7,746.7 L108.7,745.3 L79.3,745.3Z" fill="#cfd6d8" stroke="#555" stroke-width="0.6" stroke-linejoin="round" />
<path d="M62.1,745.8 L77.3,745.5" fill="none" stroke="#777" stroke-width="0.6" />
<path d="M81.6,746.7 L81.6,748.7 Q84.8,750.7 87.9,748.7 L87.9,746.7Z" fill="#fefefe" stroke="#3a3a3a" stroke-width="0.8" stroke-linejoin="round" stroke-linecap="round" />
<path d="M126.4,744.5 L130.5,744.5 L130.5,741.9 L126.4,741.9Z" fill="#fefefe" stroke="#3a3a3a" stroke-width="0.7" stroke-linejoin="round" />
<path d="M130.3,745.1 L131.5,745.7 L137.6,745.7 L138.8,743.9 L137.9,741.0 L130.3,741.0Z" fill="#d9d9d9" stroke="#3a3a3a" stroke-width="0.8" stroke-linejoin="round" />
<path d="M131.6,743.3 L137.1,743.3 L136.5,741.7 L131.6,741.7Z" fill="#3a3a3a" stroke="#3a3a3a" stroke-width="0.3" stroke-linejoin="round" />
<path d="M51.8,728.4 L55.4,728.4 L55.4,682.7 L51.8,682.7Z" fill="#fefefe" stroke="#3a3a3a" stroke-width="0.7" stroke-linejoin="round" />
<path d="M50.0,728.4 L51.8,728.4 L51.8,697.0 L50.0,697.0Z" fill="#6a6a6a" stroke="#3a3a3a" stroke-width="0.6" stroke-linejoin="round" />
<path d="M50.4,697.0 L53.1,697.0 L53.1,682.7 L51.8,682.7 L50.4,686.4Z" fill="#b5b5b5" stroke="#3a3a3a" stroke-width="0.6" stroke-linejoin="round" />
<path d="M53.3,726.7 L53.3,683.4" fill="none" stroke="#888" stroke-width="0.6" />
<path d="M55.4,721.2 L57.2,721.2 L57.2,701.8 L55.4,701.8Z" fill="#d9d9d9" stroke="#666" stroke-width="0.6" stroke-linejoin="round" />
<path d="M55.4,697.0 L57.8,697.0 L57.8,682.7 L55.4,682.7Z" fill="#b5b5b5" stroke="#555" stroke-width="0.6" stroke-linejoin="round" />
<path d="M51.2,715.7 L47.7,715.7 Q45.5,712.7 47.7,709.7 L51.2,709.7Z" fill="#fefefe" stroke="#3a3a3a" stroke-width="0.8" stroke-linejoin="round" stroke-linecap="round" />
<path d="M47.9,715.5 Q49.5,712.7 47.9,709.9" fill="none" stroke="#666" stroke-width="0.6" stroke-linejoin="round" stroke-linecap="round" />
<path d="M51.8,682.7 L55.4,682.7 L55.4,675.2 L51.8,675.2Z" fill="#d9d9d9" stroke="#3a3a3a" stroke-width="0.7" stroke-linejoin="round" />
<path d="M52.1,680.9 L55.1,680.9" fill="none" stroke="#777" stroke-width="0.6" />
<path d="M52.1,679.0 L55.1,679.0" fill="none" stroke="#777" stroke-width="0.6" />
<path d="M52.1,677.2 L55.1,677.2" fill="none" stroke="#777" stroke-width="0.6" />
<path d="M50.6,675.2 L55.4,675.2 L55.4,663.2 L54.1,661.9 L50.6,666.7Z" fill="#d9d9d9" stroke="#3a3a3a" stroke-width="0.8" stroke-linejoin="round" />
<path d="M51.0,674.3 L52.4,674.3 L52.4,665.2 L51.0,667.2Z" fill="#3a3a3a" stroke="#3a3a3a" stroke-width="0.3" stroke-linejoin="round" />
<path d="M32.6,93.8 L38.2,96.2 L38.7,400.0 L36.6,702.6 L31.5,700.2 L32.3,400.0Z" fill="#fefefe" stroke="#5a5a5a" stroke-width="0.8" stroke-linejoin="round" />
<path d="M34.6,95.0 L34.4,400.0 L33.2,700.8" fill="none" stroke="#999" stroke-width="0.6" />
<path d="M36.7,96.0 L37.4,400.0 L35.6,701.8" fill="none" stroke="#aaa" stroke-width="0.6" />
<rect x="34" y="344" width="1.5" height="2.8" fill="none" stroke="#3a3a3a" stroke-width="0.5"/>
<rect x="33.7" y="353" width="2" height="7" fill="#d9d9d9" stroke="#3a3a3a" stroke-width="0.5"/>
<rect x="33.7" y="369.5" width="2" height="7" fill="#b5b5b5" stroke="#3a3a3a" stroke-width="0.5"/>
<circle cx="34.6" cy="381" r="0.5" fill="#3a3a3a"/>
<rect x="33.6" y="296" width="1.6" height="2.6" fill="none" stroke="#666" stroke-width="0.5"/>
<rect x="33.6" y="300.5" width="1.6" height="2.6" fill="none" stroke="#666" stroke-width="0.5"/>
<rect x="33.6" y="305" width="1.6" height="2.6" fill="none" stroke="#666" stroke-width="0.5"/>
<path d="M34.6,361.6 L30.2,361.6 Q28.6,364.2 30.2,366.8 L34.6,366.8Z" fill="#fefefe" stroke="#3a3a3a" stroke-width="0.8" stroke-linejoin="round" stroke-linecap="round" />
<path d="M30.4,361.8 Q32,364.2 30.4,366.6" fill="none" stroke="#666" stroke-width="0.6" stroke-linejoin="round" stroke-linecap="round" />
<path d="M32.0,385.5 L37.5,386.5 L37.5,416.5 L32.0,415.0Z" fill="#b5b5b5" stroke="#3a3a3a" stroke-width="0.7" stroke-linejoin="round" />
<path d="M32.2,387.0 L37.3,387.8" fill="none" stroke="#555" stroke-width="0.55" />
<path d="M32.2,389.0 L37.3,389.8" fill="none" stroke="#555" stroke-width="0.55" />
<path d="M32.2,391.0 L37.3,391.8" fill="none" stroke="#555" stroke-width="0.55" />
<path d="M32.2,393.0 L37.3,393.8" fill="none" stroke="#555" stroke-width="0.55" />
<path d="M32.2,395.0 L37.3,395.8" fill="none" stroke="#555" stroke-width="0.55" />
<path d="M32.2,397.0 L37.3,397.8" fill="none" stroke="#555" stroke-width="0.55" />
<path d="M32.2,399.0 L37.3,399.8" fill="none" stroke="#555" stroke-width="0.55" />
<path d="M32.2,401.0 L37.3,401.8" fill="none" stroke="#555" stroke-width="0.55" />
<path d="M32.2,403.0 L37.3,403.8" fill="none" stroke="#555" stroke-width="0.55" />
<path d="M32.2,405.0 L37.3,405.8" fill="none" stroke="#555" stroke-width="0.55" />
<path d="M32.2,407.0 L37.3,407.8" fill="none" stroke="#555" stroke-width="0.55" />
<path d="M32.2,409.0 L37.3,409.8" fill="none" stroke="#555" stroke-width="0.55" />
<path d="M32.2,411.0 L37.3,411.8" fill="none" stroke="#555" stroke-width="0.55" />
<path d="M32.2,413.0 L37.3,413.8" fill="none" stroke="#555" stroke-width="0.55" />
<path d="M32.2,415.0 L37.3,415.8" fill="none" stroke="#555" stroke-width="0.55" />
<path d="M37.5,386.3 L41,386.3 L42,384.6 L46,384.6 Q48.4,386 47.4,389 Q46.6,391.8 44,392.4 Q51.4,394 51.4,401.6 Q51.4,409.4 44,411.2 Q46.8,411.8 47.5,414.4 Q48.2,417.4 45.6,418.2 L42,418.2 L41,416.6 L37.5,416.6Z" fill="#fefefe" stroke="#3a3a3a" stroke-width="0.85" stroke-linejoin="round" stroke-linecap="round" />
<circle cx="45.2" cy="388.6" r="1.4" fill="#fefefe" stroke="#3a3a3a" stroke-width="0.6"/>
<circle cx="45.2" cy="414.4" r="1.4" fill="#fefefe" stroke="#3a3a3a" stroke-width="0.6"/>
<circle cx="43.6" cy="401.6" r="2.3" fill="#d9d9d9" stroke="#3a3a3a" stroke-width="0.7"/>
<path d="M42.4,402.8 L44.8,400.4" fill="none" stroke="#3a3a3a" stroke-width="0.7" />
<path d="M40,393.5 Q48.2,395 48.2,401.6 Q48.2,408.4 40,409.8" fill="none" stroke="#999" stroke-width="0.5" stroke-linejoin="round" stroke-linecap="round" />
<ellipse cx="34.3" cy="441" rx="1" ry="1.3" fill="none" stroke="#3a3a3a" stroke-width="0.5"/>
<ellipse cx="34.3" cy="519" rx="1" ry="1.3" fill="none" stroke="#3a3a3a" stroke-width="0.5"/>
<path d="M33.4,459.0 L35.6,459.0" fill="none" stroke="#666" stroke-width="0.6" />
<path d="M33.4,461.0 L35.6,461.0" fill="none" stroke="#666" stroke-width="0.6" />
<path d="M33.4,463.0 L35.6,463.0" fill="none" stroke="#666" stroke-width="0.6" />
<rect x="33.5" y="476" width="2" height="3" fill="none" stroke="#3a3a3a" stroke-width="0.5"/>
<circle cx="34.4" cy="468" r="0.45" fill="#3a3a3a"/>
<circle cx="34.4" cy="472" r="0.45" fill="#3a3a3a"/>
<circle cx="34.4" cy="484" r="0.45" fill="#3a3a3a"/>
<circle cx="34.4" cy="488" r="0.45" fill="#3a3a3a"/>
<path d="M126.2,753.9 L331.0,753.0 L344.8,753.2 L345.2,754.6 L358.8,754.6 L359.8,756.0 L358.8,757.9 L345.0,758.2 L130.0,758.2Z" fill="#fefefe" stroke="#5a5a5a" stroke-width="0.8" stroke-linejoin="round" />
<path d="M129.0,756.6 L344.0,756.8" fill="none" stroke="#999" stroke-width="0.6" />
<path d="M331.0,753.0 L331.0,758.2" fill="none" stroke="#3a3a3a" stroke-width="0.6" />
<path d="M344.8,753.2 L345.0,758.2" fill="none" stroke="#3a3a3a" stroke-width="0.6" />
<rect x="143.5" y="754.3" width="7" height="1.9" fill="#3a3a3a"/>
<path d="M133.0,755.2 L143.0,755.2" fill="none" stroke="#777" stroke-width="0.6" />
<path d="M151.0,755.2 L228.0,754.9" fill="none" stroke="#aaa" stroke-width="0.5" />
<rect x="332.5" y="753.8" width="5" height="1.6" fill="#8a8a8a" stroke="#3a3a3a" stroke-width="0.4"/>
<ellipse cx="212" cy="755.3" rx="1.2" ry="0.7" fill="none" stroke="#3a3a3a" stroke-width="0.5"/>
<ellipse cx="258" cy="755.3" rx="1.2" ry="0.7" fill="none" stroke="#3a3a3a" stroke-width="0.5"/>
<ellipse cx="352" cy="755.3" rx="1.2" ry="0.7" fill="none" stroke="#3a3a3a" stroke-width="0.5"/>
<path d="M237.6,754.8 L237.6,751 Q243.8,747.8 250,751 L250,754.8Z" fill="#fefefe" stroke="#3a3a3a" stroke-width="0.8" stroke-linejoin="round" stroke-linecap="round" />
<path d="M237.8,751.2 Q243.8,753.6 249.8,751.2" fill="none" stroke="#666" stroke-width="0.6" stroke-linejoin="round" stroke-linecap="round" />
<ellipse cx="243.8" cy="750.6" rx="3" ry="0.9" fill="#d9d9d9" stroke="#666" stroke-width="0.4"/>
<path d="M329.8,758.2 Q329.6,763 332.8,763 Q336,763 335.8,758.2" fill="none" stroke="#3a3a3a" stroke-width="0.7" stroke-linejoin="round" stroke-linecap="round" />
<path d="M48.4,775.0 L51.4,770.4 L92.6,770.4 L97.7,778.5 L97.7,779.3 L48.4,779.3Z" fill="#fefefe" stroke="#3a3a3a" stroke-width="0.8" stroke-linejoin="round" />
<path d="M51.0,773.2 L94.3,773.2" fill="none" stroke="#3a3a3a" stroke-width="0.7" />
<path d="M51.4,770.4 L51.4,773.2" fill="none" stroke="#3a3a3a" stroke-width="0.5" />
<path d="M54.5,775.0 L68.2,775.0 L68.2,778.5 L54.5,778.5Z" fill="#fefefe" stroke="#3a3a3a" stroke-width="0.6" stroke-linejoin="round" />
<path d="M78.9,775.0 L92.6,775.0 L92.6,778.5 L78.9,778.5Z" fill="#fefefe" stroke="#3a3a3a" stroke-width="0.6" stroke-linejoin="round" />
<path d="M68.2,773.4 L73.6,778.4 L78.9,773.4" fill="none" stroke="#3a3a3a" stroke-width="0.7" />
<path d="M70.5,775.6 L76.5,775.6" fill="none" stroke="#3a3a3a" stroke-width="0.6" />
<path d="M50.6,779.3 L50.6,782.3 L52.0,782.3 L52.0,779.3" fill="none" stroke="#3a3a3a" stroke-width="0.6" />
<path d="M95.2,779.3 L95.2,782.3 L96.6,782.3 L96.6,779.3" fill="none" stroke="#3a3a3a" stroke-width="0.6" />
<path d="M296.0,776.0 L301.0,775.2 L301.4,772.6 L307.0,772.6 L307.4,774.9 L320.0,774.7 L322.3,777.2 L322.3,782.4 L296.0,782.4Z" fill="#fefefe" stroke="#3a3a3a" stroke-width="0.8" stroke-linejoin="round" />
<path d="M292.0,776.4 L296.0,776.0 L296.0,781.2 L292.0,780.8Z" fill="#fefefe" stroke="#3a3a3a" stroke-width="0.7" stroke-linejoin="round" />
<path d="M296.0,777.6 L322.3,777.3" fill="none" stroke="#777" stroke-width="0.6" />
<rect x="302.6" y="772.9" width="3.2" height="1.3" fill="#8a8a8a"/>
<path d="M644.0,112.6 L648.0,115.6 L648.6,330.0 L648.4,341.8 L643.0,339.4 L642.2,330.0 L642.0,128.5 L644.0,128.5Z" fill="#fefefe" stroke="#5a5a5a" stroke-width="0.8" stroke-linejoin="round" />
<path d="M644.0,128.5 L644.0,198.0 L643.2,198.5 L642.6,339.0" fill="none" stroke="#888" stroke-width="0.6" />
<path d="M646.3,114.5 L646.5,340.8" fill="none" stroke="#aaa" stroke-width="0.6" />
<rect x="644.6" y="130.6" width="1.9" height="10.6" fill="#3a3a3a"/>
<path d="M644.0,119.0 L647.8,119.0" fill="none" stroke="#888" stroke-width="0.5" />
<rect x="644.4" y="196" width="1.6" height="3" fill="none" stroke="#3a3a3a" stroke-width="0.5"/>
<path d="M639.0,222.8 L643.8,222.8 L643.8,233.2 L639.0,233.2Z" fill="#fefefe" stroke="#3a3a3a" stroke-width="0.8" stroke-linejoin="round" />
<circle cx="641.2" cy="225.4" r="0.8" fill="#3a3a3a"/>
<circle cx="641.2" cy="230.4" r="0.8" fill="#3a3a3a"/>
<path d="M640.0,228.0 L643.0,228.0" fill="none" stroke="#3a3a3a" stroke-width="0.6" />
<path d="M648.4,312 Q653,311.6 653,315.2 Q653,318.6 648.4,318.4" fill="none" stroke="#3a3a3a" stroke-width="0.7" stroke-linejoin="round" stroke-linecap="round" />
<rect x="643.4" y="314" width="1.8" height="5.5" fill="#b5b5b5" stroke="#3a3a3a" stroke-width="0.5"/>
<rect x="643.6" y="322.5" width="1.8" height="4" fill="none" stroke="#3a3a3a" stroke-width="0.5"/>
<rect x="644.2" y="330" width="3" height="8.6" fill="none" stroke="#3a3a3a" stroke-width="0.5"/>
<path d="M630.0,322.0 L631.2,320.4 L633.0,320.4 L634.2,322.6 L634.2,345.0 L637.8,345.0 L637.8,376.0 L634.4,376.0 L630.0,368.0 L629.2,340.0Z" fill="#fefefe" stroke="#3a3a3a" stroke-width="0.8" stroke-linejoin="round" />
<path d="M631.6,322.0 L631.6,366.0" fill="none" stroke="#777" stroke-width="0.6" />
<path d="M634.2,345.0 L634.2,376.0" fill="none" stroke="#3a3a3a" stroke-width="0.6" />
<path d="M636.0,346.5 L636.0,376.0" fill="none" stroke="#999" stroke-width="0.5" />
<path d="M629.0,338.0 L631.6,338.0 L631.6,354.0 L629.0,354.0Z" fill="#b5b5b5" stroke="#3a3a3a" stroke-width="0.6" stroke-linejoin="round" />
<rect x="629.6" y="346" width="1.4" height="3" fill="#fefefe" stroke="#3a3a3a" stroke-width="0.4"/>
<path d="M632.0,327.0 L635.4,327.0 L635.4,333.5 L632.0,333.5Z" fill="#d9d9d9" stroke="#3a3a3a" stroke-width="0.6" stroke-linejoin="round" />
<circle cx="631" cy="324" r="0.7" fill="#3a3a3a"/>
<path d="M631.6,374.0 L637.4,376.0 L638.8,440.0 L638.4,551.2 L633.6,549.2 L631.6,440.0Z" fill="#fefefe" stroke="#5a5a5a" stroke-width="0.8" stroke-linejoin="round" />
<path d="M633.8,376.0 L634.0,440.0 L635.4,550.0" fill="none" stroke="#999" stroke-width="0.6" />
<path d="M636.0,376.0 L637.0,440.0 L637.0,550.5" fill="none" stroke="#bbb" stroke-width="0.6" />
<rect x="631.9" y="424.6" width="1.3" height="23.6" fill="#3a3a3a"/>
<path d="M638.6,523.4 Q643.2,523 643.2,526.4 Q643.2,529.6 638.6,529.4" fill="none" stroke="#3a3a3a" stroke-width="0.7" stroke-linejoin="round" stroke-linecap="round" />
<rect x="632.4" y="524.6" width="1.7" height="3" fill="none" stroke="#3a3a3a" stroke-width="0.5"/>
<rect x="632.6" y="530" width="1.7" height="3" fill="#8a8a8a" stroke="#3a3a3a" stroke-width="0.5"/>
<rect x="633.4" y="535.5" width="2" height="3" fill="#3a3a3a"/>
<circle cx="635" cy="546" r="0.6" fill="none" stroke="#3a3a3a" stroke-width="0.4"/>
<path d="M641.4,683 Q641.4,680 645,679.9 Q648.8,680 648.8,683 L648.8,690 Q648.6,691.8 646.4,691.8 L644.6,691.8 L641.4,689.6Z" fill="#fefefe" stroke="#3a3a3a" stroke-width="0.8" stroke-linejoin="round" stroke-linecap="round" />
<path d="M644.2,681.5 L644.2,691.4" fill="none" stroke="#777" stroke-width="0.6" />
<path d="M641.6,684.6 L644.2,685.6" fill="none" stroke="#777" stroke-width="0.6" stroke-linejoin="round" stroke-linecap="round" />
<path d="M637.6,696.4 L640.4,696.4 L642.8,698.6 L642.8,701.8 L644.0,701.8Z" fill="none" stroke="#3a3a3a" stroke-width="0.8" stroke-linejoin="round" />
<path d="M637.6,696.4 L640.4,696.4 L642.8,698.6 L642.8,742.0 L637.6,742.0Z" fill="#fefefe" stroke="#3a3a3a" stroke-width="0.8" stroke-linejoin="round" />
<path d="M639.4,697.0 L639.4,741.6" fill="none" stroke="#999" stroke-width="0.6" />
<path d="M638.3,699.0 L638.3,704.0" fill="none" stroke="#666" stroke-width="1.0" />
<path d="M642.8,703.4 Q645.6,701.2 648.8,703.4 L648.8,745.2 Q645.8,747.2 642.8,745.2 Z" fill="#fefefe" stroke="#3a3a3a" stroke-width="0.8" stroke-linejoin="round" stroke-linecap="round" />
<path d="M642.8,703.6 Q645.8,705.6 648.8,703.6" fill="none" stroke="#777" stroke-width="0.6" stroke-linejoin="round" stroke-linecap="round" />
<path d="M647.0,704.6 L647.0,745.6" fill="none" stroke="#aaa" stroke-width="0.5" />
<path d="M637.6,706.0 L629,706.0 Q627.2,707.6 629,709.2 L637.6,709.2" fill="#fefefe" stroke="#3a3a3a" stroke-width="0.8" stroke-linejoin="round" stroke-linecap="round" />
<path d="M637.6,733.0 L629,733.0 Q627.2,734.6 629,736.2 L637.6,736.2" fill="#fefefe" stroke="#3a3a3a" stroke-width="0.8" stroke-linejoin="round" stroke-linecap="round" />
<path d="M653.4,710.6 Q653.4,708.6 655.4,708.5 L659.6,708.5 Q661.6,708.6 661.6,710.6 L661.6,736 L659.8,736.4 L659.8,751 L655.2,751 L655.2,736.4 L653.4,736Z" fill="#fefefe" stroke="#3a3a3a" stroke-width="0.8" stroke-linejoin="round" stroke-linecap="round" />
<path d="M654.8,710.0 L654.8,736.0" fill="none" stroke="#999" stroke-width="0.5" />
<circle cx="657.9" cy="713.5" r="1.7" fill="#d9d9d9" stroke="#3a3a3a" stroke-width="0.6"/>
<circle cx="658.2" cy="713.7" r="0.7" fill="#8a8a8a"/>
<circle cx="657.9" cy="721.4" r="1.7" fill="#d9d9d9" stroke="#3a3a3a" stroke-width="0.6"/>
<circle cx="658.2" cy="721.6" r="0.7" fill="#8a8a8a"/>
<circle cx="657.9" cy="729.4" r="1.7" fill="#d9d9d9" stroke="#3a3a3a" stroke-width="0.6"/>
<circle cx="658.2" cy="729.6" r="0.7" fill="#8a8a8a"/>
<path d="M657.4,737.0 L657.4,750.5" fill="none" stroke="#777" stroke-width="0.6" />
<path d="M654.6,742 L652.2,748.6 L651.2,751.6 L652.6,753 L654.4,751" fill="none" stroke="#3a3a3a" stroke-width="0.7" stroke-linejoin="round" stroke-linecap="round" />
<path d="M652.4,752.6 Q651,756.4 654.6,757.8 L657,758.8 L658.4,756 L658.4,752 L655,750.8" fill="#d9d9d9" stroke="#3a3a3a" stroke-width="0.8" stroke-linejoin="round" stroke-linecap="round" />
<path d="M658.4,751.4 L662.4,751.4 Q664,753 663.6,756 L662.8,759.4 L659.4,759.8 L658.4,757Z" fill="#b5b5b5" stroke="#3a3a3a" stroke-width="0.8" stroke-linejoin="round" stroke-linecap="round" />
<circle cx="655.4" cy="754.8" r="1.1" fill="#8a8a8a" stroke="#3a3a3a" stroke-width="0.4"/>
<circle cx="661" cy="755.4" r="1.2" fill="#3a3a3a"/>
<path d="M652.8,764.8 L652.8,771.6 L655,771.6 L655,768.2 Q657,766.6 659.2,768.2 L659.2,771.6 L663.2,771.6 Q664.4,768.4 662.6,764.8 L660.8,764.8 Q661.6,768 660,769.4 L656.6,769.4 L654.6,764.8Z" fill="#fefefe" stroke="#3a3a3a" stroke-width="0.8" stroke-linejoin="round" stroke-linecap="round" />
<path d="M243.2,258.5 L243.2,333.1" fill="none" stroke="#555" stroke-width="0.8" />
<path d="M250.5,258.5 L250.5,333.1" fill="none" stroke="#555" stroke-width="0.8" />
<path d="M253.5,258.5 L253.5,333.1" fill="none" stroke="#555" stroke-width="0.8" />
<ellipse cx="247.2" cy="265.1" rx="1.5" ry="3.6" fill="#fefefe" stroke="#444" stroke-width="0.7"/>
<ellipse cx="247.7" cy="265.3" rx="0.6" ry="2.6" fill="none" stroke="#999" stroke-width="0.5"/>
<rect x="245.7" y="276" width="3" height="42.5" rx="1.5" fill="#fefefe" stroke="#444" stroke-width="0.7"/>
<path d="M247.0,280.0 L248.6,280.0" fill="none" stroke="#888" stroke-width="0.6" />
<path d="M247.0,283.2 L248.6,283.2" fill="none" stroke="#888" stroke-width="0.6" />
<path d="M247.0,286.4 L248.6,286.4" fill="none" stroke="#888" stroke-width="0.6" />
<path d="M247.0,289.6 L248.6,289.6" fill="none" stroke="#888" stroke-width="0.6" />
<path d="M247.0,292.8 L248.6,292.8" fill="none" stroke="#888" stroke-width="0.6" />
<path d="M247.0,296.0 L248.6,296.0" fill="none" stroke="#888" stroke-width="0.6" />
<path d="M247.0,299.2 L248.6,299.2" fill="none" stroke="#888" stroke-width="0.6" />
<path d="M247.0,302.4 L248.6,302.4" fill="none" stroke="#888" stroke-width="0.6" />
<path d="M247.0,305.6 L248.6,305.6" fill="none" stroke="#888" stroke-width="0.6" />
<path d="M279.4,258.5 L279.4,333.1" fill="none" stroke="#555" stroke-width="0.8" />
<path d="M286.7,258.5 L286.7,333.1" fill="none" stroke="#555" stroke-width="0.8" />
<path d="M289.3,258.5 L289.3,333.1" fill="none" stroke="#555" stroke-width="0.8" />
<ellipse cx="283.4" cy="265.1" rx="1.5" ry="3.6" fill="#fefefe" stroke="#444" stroke-width="0.7"/>
<ellipse cx="283.9" cy="265.3" rx="0.6" ry="2.6" fill="none" stroke="#999" stroke-width="0.5"/>
<rect x="281.9" y="276" width="3" height="42.5" rx="1.5" fill="#fefefe" stroke="#444" stroke-width="0.7"/>
<path d="M283.2,280.0 L284.8,280.0" fill="none" stroke="#888" stroke-width="0.6" />
<path d="M283.2,283.2 L284.8,283.2" fill="none" stroke="#888" stroke-width="0.6" />
<path d="M283.2,286.4 L284.8,286.4" fill="none" stroke="#888" stroke-width="0.6" />
<path d="M283.2,289.6 L284.8,289.6" fill="none" stroke="#888" stroke-width="0.6" />
<path d="M283.2,292.8 L284.8,292.8" fill="none" stroke="#888" stroke-width="0.6" />
<path d="M283.2,296.0 L284.8,296.0" fill="none" stroke="#888" stroke-width="0.6" />
<path d="M283.2,299.2 L284.8,299.2" fill="none" stroke="#888" stroke-width="0.6" />
<path d="M283.2,302.4 L284.8,302.4" fill="none" stroke="#888" stroke-width="0.6" />
<path d="M283.2,305.6 L284.8,305.6" fill="none" stroke="#888" stroke-width="0.6" />
<path d="M316.2,258.5 L316.2,333.1" fill="none" stroke="#555" stroke-width="0.8" />
<path d="M323.7,258.5 L323.7,333.1" fill="none" stroke="#555" stroke-width="0.8" />
<path d="M326.3,258.5 L326.3,333.1" fill="none" stroke="#555" stroke-width="0.8" />
<ellipse cx="320.3" cy="265.1" rx="1.5" ry="3.6" fill="#fefefe" stroke="#444" stroke-width="0.7"/>
<ellipse cx="320.8" cy="265.3" rx="0.6" ry="2.6" fill="none" stroke="#999" stroke-width="0.5"/>
<rect x="318.8" y="276" width="3" height="42.5" rx="1.5" fill="#fefefe" stroke="#444" stroke-width="0.7"/>
<path d="M320.1,280.0 L321.7,280.0" fill="none" stroke="#888" stroke-width="0.6" />
<path d="M320.1,283.2 L321.7,283.2" fill="none" stroke="#888" stroke-width="0.6" />
<path d="M320.1,286.4 L321.7,286.4" fill="none" stroke="#888" stroke-width="0.6" />
<path d="M320.1,289.6 L321.7,289.6" fill="none" stroke="#888" stroke-width="0.6" />
<path d="M320.1,292.8 L321.7,292.8" fill="none" stroke="#888" stroke-width="0.6" />
<path d="M320.1,296.0 L321.7,296.0" fill="none" stroke="#888" stroke-width="0.6" />
<path d="M320.1,299.2 L321.7,299.2" fill="none" stroke="#888" stroke-width="0.6" />
<path d="M320.1,302.4 L321.7,302.4" fill="none" stroke="#888" stroke-width="0.6" />
<path d="M320.1,305.6 L321.7,305.6" fill="none" stroke="#888" stroke-width="0.6" />
<path d="M239.6,302.7 L248.1,303.0 Q249.6,303.3 249.6,304.7 L249.6,311.5 Q249.6,312.9 248.1,313.2 L239.6,313.5Z" fill="#fefefe" stroke="#333" stroke-width="0.85" stroke-linejoin="round" stroke-linecap="round" />
<ellipse cx="239.6" cy="308.1" rx="2.4" ry="5.4" fill="#fefefe" stroke="#333" stroke-width="0.85"/>
<ellipse cx="239.8" cy="308.1" rx="1.1" ry="2.7" fill="none" stroke="#777" stroke-width="0.5"/>
<path d="M273.3,302.7 L282.7,303.0 Q284.2,303.3 284.2,304.7 L284.2,311.5 Q284.2,312.9 282.7,313.2 L273.3,313.5Z" fill="#fefefe" stroke="#333" stroke-width="0.85" stroke-linejoin="round" stroke-linecap="round" />
<ellipse cx="273.3" cy="308.1" rx="2.9" ry="5.4" fill="#fefefe" stroke="#333" stroke-width="0.85"/>
<ellipse cx="273.5" cy="308.1" rx="1.3" ry="2.7" fill="none" stroke="#777" stroke-width="0.5"/>
<path d="M283.2,303.6 L285.6,305 L285.6,311.4 L283.2,312.6Z" fill="#444"/>
<path d="M313.4,302.9 L321.4,303.2 Q322.9,303.5 322.9,304.9 L322.9,311.3 Q322.9,312.7 321.4,313.0 L313.4,313.3Z" fill="#fefefe" stroke="#333" stroke-width="0.85" stroke-linejoin="round" stroke-linecap="round" />
<ellipse cx="313.4" cy="308.1" rx="2.1" ry="5.2" fill="#fefefe" stroke="#333" stroke-width="0.85"/>
<ellipse cx="313.6" cy="308.1" rx="0.9" ry="2.6" fill="none" stroke="#777" stroke-width="0.5"/>
<path d="M236.5,308.5 L227.0,309.7" fill="none" stroke="#333" stroke-width="0.8" />
<path d="M215.3,311 L228,307.9 L228,311.6Z" fill="#222"/>
<path d="M293.0,310.7 L302.0,309.6" fill="none" stroke="#333" stroke-width="0.8" />
<path d="M313.6,308.4 L301.3,307.2 L301.3,311.3Z" fill="#222"/>
<path d="M265.8,313.2 Q267.5,321 272.4,321 Q276.5,320.6 278.4,314.6" fill="none" stroke="#333" stroke-width="0.8" stroke-linejoin="round" stroke-linecap="round" />
<path d="M264.8,311.2 L268.2,314.8 L264.9,316Z" fill="#222"/>
<path d="M279.2,312.4 L280,317 L276.2,315.4Z" fill="#222"/>
<clipPath id="c1"><circle cx="268.4" cy="472.2" r="36"/></clipPath>
<clipPath id="c2"><circle cx="268.5" cy="552.5" r="36"/></clipPath>
<g clip-path="url(#c1)">
<rect x="282.6" y="432.2" width="1.9" height="80" fill="#c8c8c8"/>
<path d="M275.9,432.2 L275.9,512.2" fill="none" stroke="#444" stroke-width="0.85" />
<path d="M280.9,432.2 L280.9,512.2" fill="none" stroke="#555" stroke-width="0.8" />
<path d="M282.6,432.2 L282.6,512.2" fill="none" stroke="#666" stroke-width="0.7" />
<path d="M284.5,432.2 L284.5,512.2" fill="none" stroke="#555" stroke-width="0.8" />
</g>
<g clip-path="url(#c2)">
<rect x="282.6" y="512.5" width="1.9" height="80" fill="#c8c8c8"/>
<path d="M275.9,512.5 L275.9,592.5" fill="none" stroke="#444" stroke-width="0.85" />
<path d="M280.9,512.5 L280.9,592.5" fill="none" stroke="#555" stroke-width="0.8" />
<path d="M282.6,512.5 L282.6,592.5" fill="none" stroke="#666" stroke-width="0.7" />
<path d="M284.5,512.5 L284.5,592.5" fill="none" stroke="#555" stroke-width="0.8" />
</g>
<rect x="277" y="466.1" width="3.3" height="35.3" rx="0.8" fill="#fefefe" stroke="#444" stroke-width="0.7"/>
<path d="M278.2,467.0 L278.2,500.6" fill="none" stroke="#aaa" stroke-width="0.5" />
<path d="M271.6,479.7 L279,479.9 Q280.4,480.3 280.4,481.6 L280.4,486.2 Q280.4,487.6 279,487.9 L271.6,488Z" fill="#fefefe" stroke="#333" stroke-width="0.8" stroke-linejoin="round" stroke-linecap="round" />
<ellipse cx="271.6" cy="483.85" rx="1.9" ry="4.15" fill="#d9d9d9" stroke="#333" stroke-width="0.8"/>
<ellipse cx="271.7" cy="483.85" rx="0.9" ry="2.3" fill="#b5b5b5" stroke="#666" stroke-width="0.4"/>
<path d="M254.4,450.3 L261.9,450.3 L261.9,456.6 L254.4,456.6Z" fill="#fefefe" stroke="#444" stroke-width="0.8" stroke-linejoin="round" />
<rect x="256.4" y="452" width="3.6" height="2.6" fill="#b5b5b5" stroke="#555" stroke-width="0.4"/>
<path d="M252.8,456.6 L262.1,456.6 L262.1,491.6 L252.8,491.6Z" fill="#fefefe" stroke="#444" stroke-width="0.85" stroke-linejoin="round" />
<path d="M262.1,457.6 L264.2,458.6 L264.2,474 L262.1,478.4" fill="none" stroke="#444" stroke-width="0.8" stroke-linejoin="round" stroke-linecap="round" />
<path d="M262.1,488.5 L264.2,486.5 L264.2,478" fill="none" stroke="#666" stroke-width="0.6" stroke-linejoin="round" stroke-linecap="round" />
<path d="M263,464.6 L266,464.6 L266.2,470.6 L264.6,472.2 L263,470.6Z" fill="#d9d9d9" stroke="#444" stroke-width="0.7" stroke-linejoin="round" stroke-linecap="round" />
<path d="M264.6,466.0 L264.6,470.5" fill="none" stroke="#666" stroke-width="0.5" />
<rect x="277.2" y="546.3" width="3.2" height="35.2" rx="0.8" fill="#fefefe" stroke="#444" stroke-width="0.7"/>
<path d="M278.4,547.2 L278.4,580.6" fill="none" stroke="#aaa" stroke-width="0.5" />
<path d="M274,561.6 L278,561.4 L278,566.4 L274,566.2Z" fill="#fefefe" stroke="#333" stroke-width="0.7" stroke-linejoin="round" stroke-linecap="round" />
<path d="M278,560.6 L280.3,560.6 L280.3,567.2 L278,567.2Z" fill="#d9d9d9" stroke="#333" stroke-width="0.7" stroke-linejoin="round" stroke-linecap="round" />
<ellipse cx="272.7" cy="563.9" rx="1.6" ry="4" fill="#d9d9d9" stroke="#333" stroke-width="0.8"/>
<path d="M245,527.6 L252.4,525.3 L256.4,525.8 L256.4,531.6" fill="none" stroke="#444" stroke-width="0.8" stroke-linejoin="round" stroke-linecap="round" />
<path d="M245,527.6 L245.4,529 L249,528.4 L249,574.7 L245,574.7 L245,576.5 L251.4,576.5 L257,569" fill="none" stroke="#444" stroke-width="0.85" stroke-linejoin="round" stroke-linecap="round" />
<path d="M251.2,525.8 L251.2,529 L254.4,528.6 L254.4,536" fill="none" stroke="#666" stroke-width="0.6" stroke-linejoin="round" stroke-linecap="round" />
<rect x="252.3" y="526" width="3" height="1.6" fill="#8a8a8a"/>
<path d="M251.3,538 Q254.1,535.6 257,538 L257,568.6 Q254.1,570.8 251.3,568.6Z" fill="#fefefe" stroke="#444" stroke-width="0.85" stroke-linejoin="round" stroke-linecap="round" />
<path d="M251.3,538.2 Q254.1,540 257,538.2" fill="none" stroke="#888" stroke-width="0.5" stroke-linejoin="round" stroke-linecap="round" />
<path d="M252.6,539.4 L252.6,569.0" fill="none" stroke="#aaa" stroke-width="0.5" />
<path d="M257.0,532.6 L258.6,531.8 L261.6,532.0 L261.6,564.4 L257.0,565.4Z" fill="#fefefe" stroke="#444" stroke-width="0.8" stroke-linejoin="round" />
<path d="M259.6,532.0 L259.6,564.8" fill="none" stroke="#888" stroke-width="0.5" />
<ellipse cx="258.4" cy="547" rx="0.8" ry="1.1" fill="#8a8a8a" stroke="#444" stroke-width="0.4"/>
<ellipse cx="258.4" cy="551.5" rx="0.8" ry="1.1" fill="#8a8a8a" stroke="#444" stroke-width="0.4"/>
<ellipse cx="258.4" cy="556" rx="0.8" ry="1.1" fill="#8a8a8a" stroke="#444" stroke-width="0.4"/>
</svg>
</body></html>
